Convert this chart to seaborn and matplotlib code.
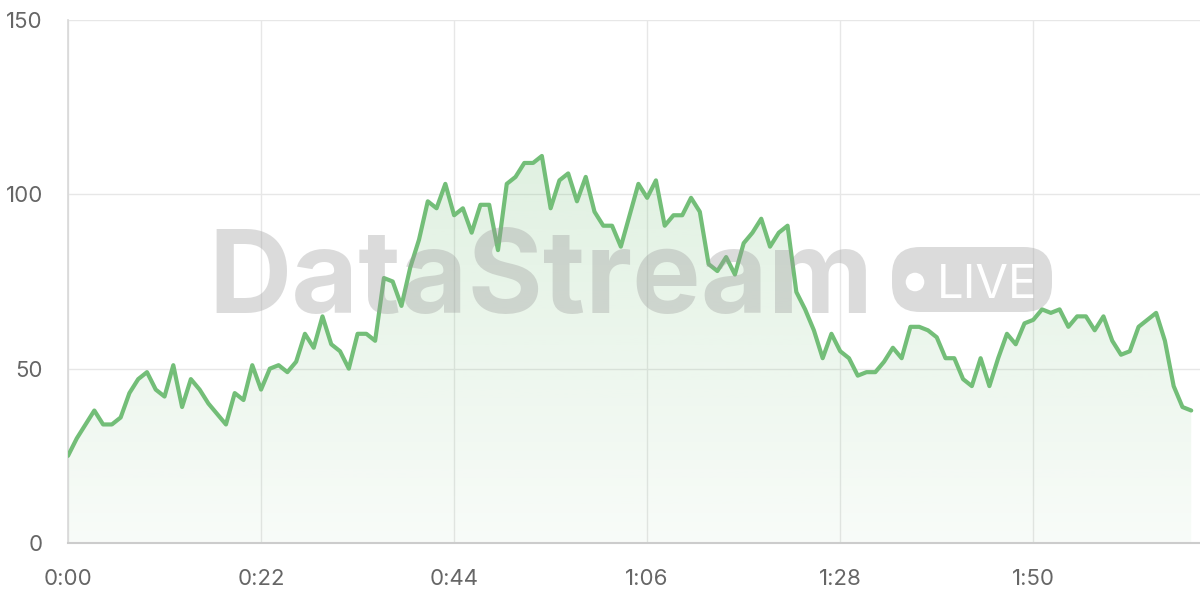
import numpy as np
import pandas as pd
import matplotlib
matplotlib.use("Agg")
import matplotlib.pyplot as plt
import seaborn as sns
from matplotlib.ticker import FuncFormatter
from matplotlib.patches import FancyBboxPatch, Circle
from matplotlib.colors import to_rgb

# one reading per second
values = [25, 30, 34, 38, 34, 34, 36, 43, 47, 49,
          44, 42, 51, 39, 47, 44, 40, 37, 34, 43,
          41, 51, 44, 50, 51, 49, 52, 60, 56, 65,
          57, 55, 50, 60, 60, 58, 76, 75, 68, 79,
          87, 98, 96, 103, 94, 96, 89, 97, 97, 84,
          103, 105, 109, 109, 111, 96, 104, 106, 98, 105,
          95, 91, 91, 85, 94, 103, 99, 104, 91, 94,
          94, 99, 95, 80, 78, 82, 77, 86, 89, 93,
          85, 89, 91, 72, 67, 61, 53, 60, 55, 53,
          48, 49, 49, 52, 56, 53, 62, 62, 61, 59,
          53, 53, 47, 45, 53, 45, 53, 60, 57, 63,
          64, 67, 66, 67, 62, 65, 65, 61, 65, 58,
          54, 55, 62, 64, 66, 58, 45, 39, 38]
seconds = list(range(len(values)))
x_ticks = [0, 22, 44, 66, 88, 110]
y_ticks = [0, 50, 100, 150]

df = pd.DataFrame({"t": seconds, "value": values})

green = "#73be78"
grid_c = "#e7e7e7"
label_c = "#666666"

sns.set_theme(style="white")
plt.rcParams["font.family"] = ["Inter", "DejaVu Sans"]

fig = plt.figure(figsize=(12, 6), dpi=100)
ax = fig.add_axes([68 / 1200, 1 - 543 / 600, 1 - 68 / 1200, (543 - 20) / 600])

# gradient fill under the line
poly = ax.fill_between(df["t"], df["value"], 0, facecolor="none", edgecolor="none")
rgb = to_rgb(green)
grad = np.zeros((256, 1, 4))
grad[:, 0, :3] = rgb
grad[:, 0, 3] = np.linspace(0.28, 0.05, 256)
img = ax.imshow(grad, aspect="auto", extent=[0, seconds[-1], 0, 150],
                origin="upper", zorder=1)
img.set_clip_path(poly.get_paths()[0], transform=ax.transData)

sns.lineplot(data=df, x="t", y="value", ax=ax, color=green, linewidth=3.0, zorder=4)

ax.set_xlim(0, 129)
ax.set_ylim(0, 150)
ax.set_xticks(x_ticks)
ax.set_yticks(y_ticks)
ax.xaxis.set_major_formatter(FuncFormatter(lambda v, p: f"{int(v) // 60}:{int(v) % 60:02d}"))
ax.set_xlabel("")
ax.set_ylabel("")
ax.grid(True, color=grid_c, linewidth=1)
ax.set_axisbelow(True)
ax.tick_params(axis="both", length=11, width=1, color=grid_c, labelcolor=label_c, labelsize=16)
ax.tick_params(axis="x", pad=8)
ax.tick_params(axis="y", pad=7)
for s in ["top", "right"]:
    ax.spines[s].set_visible(False)
ax.spines["left"].set_color("#d9d9d9")
ax.spines["bottom"].set_color("#cccccc")
ax.spines["bottom"].set_linewidth(1.5)
ax.spines["bottom"].set_zorder(5)

# watermark
fig.text(208 / 1200, 1 - 313 / 600, "DataStream", fontsize=83, fontweight="bold",
         color="#9a9a9a", alpha=0.35, ha="left", va="baseline", zorder=3)
pill = FancyBboxPatch((8.92, 2.88), 1.6, 0.65,
                      boxstyle="round,pad=0,rounding_size=0.28", transform=fig.dpi_scale_trans,
                      facecolor="#9a9a9a", edgecolor="none", alpha=0.35, zorder=3)
fig.patches.append(pill)
fig.patches.append(Circle((9.15, 3.18), 0.093, transform=fig.dpi_scale_trans,
                          facecolor="white", edgecolor="none", zorder=3))
fig.text(937 / 1200, 1 - 298 / 600, "LIVE", fontsize=34, color="white",
         ha="left", va="baseline", zorder=3)

fig.savefig("out.png", dpi=100)
